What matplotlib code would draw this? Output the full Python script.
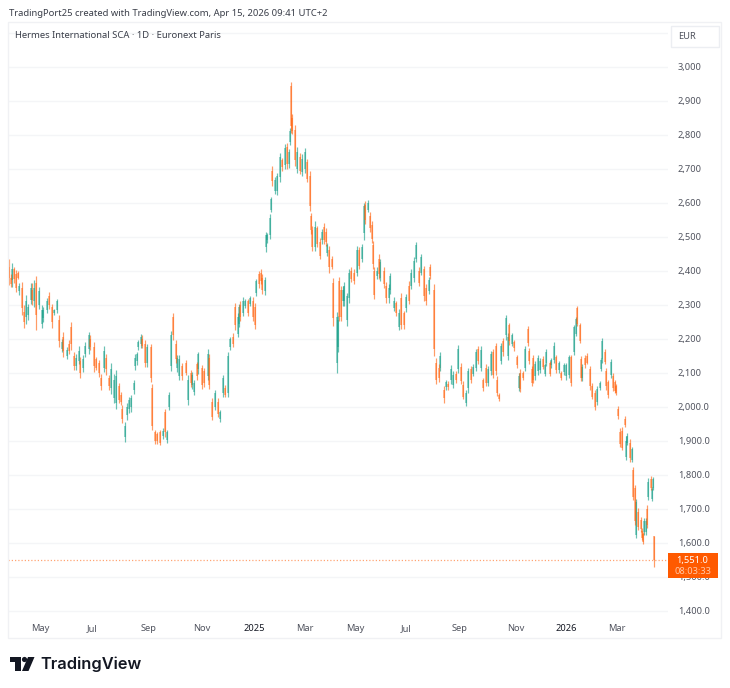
import numpy as np
import matplotlib
matplotlib.use("Agg")
import matplotlib.pyplot as plt
from matplotlib.patches import Rectangle, Polygon, Circle

plt.rcParams['font.family'] = ['Noto Sans', 'DejaVu Sans']

# Hermes daily bars (every visible bar, session = trading day number)
sessions = [
    0, 1, 2, 4, 5, 7, 8, 10, 12, 13, 15, 17, 18, 20, 21, 24, 26, 27, 30, 32,
    34, 36, 38, 40, 42, 43, 46, 48, 50, 52, 54, 56, 57, 59, 61, 64, 65, 68, 70, 72,
    74, 76, 78, 80, 82, 84, 86, 88, 90, 91, 93, 95, 96, 98, 100, 101, 103, 104, 106, 107,
    109, 111, 114, 115, 117, 119, 121, 124, 125, 127, 129, 130, 132, 134, 135, 137, 139, 142, 144, 146,
    147, 149, 151, 152, 155, 157, 160, 161, 163, 166, 168, 170, 172, 174, 176, 178, 180, 182, 184, 185,
    186, 188, 190, 192, 194, 196, 198, 199, 201, 203, 204, 206, 207, 208, 210, 211, 212, 214, 216, 218,
    220, 222, 224, 225, 226, 227, 228, 230, 232, 234, 236, 238, 240, 242, 243, 244, 246, 248, 250, 252,
    254, 255, 256, 258, 260, 261, 264, 265, 266, 267, 269, 270, 272, 274, 275, 278, 280, 282, 284, 286,
    287, 289, 291, 292, 293, 294, 296, 298, 299, 302, 304, 306, 307, 310, 312, 314, 316, 318, 320, 322,
    324, 326, 328, 330, 332, 334, 336, 338, 339, 342, 344, 346, 347,
    350, 352, 354, 356, 358, 360, 362, 364, 366, 368, 370, 372, 374, 376, 378, 380, 382, 384, 386, 388,
    390, 392, 393, 395, 396, 398, 400, 402, 403, 405, 407, 409, 411, 412, 414, 416, 418, 419, 421, 422,
    424, 426, 428, 430, 432, 433, 436, 437, 439, 441, 443, 445, 447, 449, 451, 453, 455, 457, 458, 460,
    461, 462, 464, 466, 468, 470, 472, 474, 476, 477, 478, 480, 481, 483, 485, 487, 488, 489,
    491, 492, 494, 496, 497, 498, 500, 502, 503, 504, 505, 507, 509, 510, 511, 512, 513, 514, 515, 517,
    518, 519, 520,
]
highs = [
    2436, 2392, 2422, 2412, 2402, 2400, 2363, 2368, 2299, 2329, 2304, 2365, 2363, 2373, 2384, 2353, 2299, 2294, 2319, 2338,
    2304, 2289, 2316, 2270, 2201, 2221, 2175, 2196, 2250, 2162, 2157, 2179, 2147, 2152, 2191, 2221, 2211, 2191, 2147, 2137,
    2098, 2179, 2157, 2093, 2128, 2098, 2108, 2069, 2044, 2005, 1956, 2010, 2030, 2035, 2079, 2157, 2162, 2196, 2214, 2211,
    2196, 2186, 2186, 2067, 1932, 1927, 1932, 1937, 1995, 1932, 2044, 2224, 2277, 2196, 2152, 2152, 2128, 2137, 2093, 2108,
    2103, 2079, 2132, 2162, 2123, 2113, 2169, 2157, 2025, 2049, 2025, 1990, 2093, 2064, 2162, 2206, 2216, 2306, 2275, 2304,
    2312, 2322, 2317, 2317, 2325, 2322, 2307, 2376, 2400, 2405, 2390, 2381, 2513, 2511, 2567, 2616, 2709, 2675, 2689, 2748,
    2733, 2773, 2776, 2758, 2819, 2955, 2861, 2828, 2763, 2748, 2743, 2760, 2728, 2694, 2570, 2533, 2547, 2533, 2498, 2523,
    2542, 2525, 2483, 2474, 2444, 2378, 2278, 2268, 2381, 2356, 2356, 2366, 2336, 2405, 2410, 2405, 2474, 2469, 2479, 2601,
    2606, 2609, 2572, 2547, 2488, 2410, 2410, 2449, 2435, 2410, 2366, 2361, 2393, 2322, 2312, 2287, 2335, 2283, 2332, 2369,
    2405, 2442, 2485, 2410, 2449, 2415, 2361, 2381, 2420, 2361, 2145, 2126, 2160,
    2061, 2080, 2075, 2122, 2105, 2105, 2183, 2129, 2075, 2051, 2115, 2120, 2125, 2169, 2178, 2178, 2085, 2125, 2120, 2164,
    2169, 2188, 2090, 2041, 2188, 2203, 2269, 2218, 2247, 2218, 2198, 2154, 2100, 2110, 2105, 2178, 2237, 2174, 2120, 2154,
    2134, 2154, 2144, 2149, 2129, 2169, 2134, 2144, 2190, 2154, 2134, 2105, 2129, 2129, 2154, 2154, 2242, 2265, 2298, 2247,
    2149, 2125, 2154, 2159, 2120, 2071, 2051, 2061, 2075, 2144, 2203, 2169, 2115, 2080, 2141, 2100, 2080, 2066,
    2003, 1937, 1940, 1973, 1913, 1923, 1905, 1883, 1824, 1771, 1728, 1702, 1677, 1643, 1633, 1673, 1673, 1712, 1790, 1797,
    1764, 1793, 1621,
]
lows = [
    2358, 2353, 2353, 2363, 2338, 2375, 2329, 2270, 2233, 2245, 2255, 2304, 2299, 2294, 2226, 2289, 2231, 2250, 2275, 2289,
    2233, 2270, 2275, 2177, 2162, 2147, 2142, 2157, 2167, 2108, 2108, 2126, 2084, 2103, 2147, 2157, 2167, 2103, 2108, 2088,
    2049, 2103, 2093, 2049, 2039, 2010, 1995, 2010, 2005, 1953, 1898, 1961, 1981, 1986, 2039, 2108, 2123, 2167, 2172, 2172,
    2118, 2118, 2074, 1932, 1892, 1892, 1887, 1907, 1912, 1894, 1990, 2106, 2196, 2128, 2103, 2078, 2078, 2093, 2005, 2059,
    2054, 2034, 2079, 2098, 2054, 2059, 2079, 2054, 1961, 1990, 1971, 1956, 2030, 2030, 2030, 2167, 2177, 2226, 2206, 2235,
    2253, 2268, 2292, 2268, 2297, 2253, 2229, 2327, 2351, 2361, 2332, 2329, 2456, 2483, 2493, 2572, 2650, 2626, 2623, 2660,
    2694, 2699, 2701, 2704, 2770, 2807, 2802, 2709, 2689, 2684, 2679, 2689, 2660, 2577, 2508, 2459, 2459, 2469, 2434, 2479,
    2479, 2474, 2444, 2395, 2405, 2239, 2099, 2160, 2253, 2253, 2297, 2297, 2239, 2307, 2366, 2361, 2385, 2405, 2425, 2491,
    2537, 2572, 2513, 2483, 2405, 2317, 2376, 2376, 2371, 2351, 2307, 2307, 2332, 2283, 2268, 2227, 2229, 2229, 2278, 2302,
    2346, 2366, 2425, 2356, 2387, 2312, 2299, 2332, 2376, 2150, 2067, 2072, 2106,
    2012, 2051, 2051, 2066, 2056, 2071, 2100, 2066, 2022, 2002, 2041, 2071, 2090, 2105, 2125, 2105, 2046, 2061, 2061, 2095,
    2085, 2095, 2031, 2017, 2125, 2149, 2198, 2139, 2183, 2178, 2164, 2115, 2046, 2043, 2080, 2105, 2178, 2125, 2061, 2071,
    2080, 2095, 2100, 2110, 2090, 2120, 2090, 2115, 2129, 2100, 2100, 2080, 2095, 2080, 2085, 2061, 2154, 2208, 2237, 2188,
    2075, 2075, 2115, 2125, 2051, 2022, 1992, 2007, 2051, 2105, 2129, 2125, 2051, 2026, 2085, 2046, 2041, 2036,
    1964, 1883, 1873, 1942, 1844, 1888, 1839, 1839, 1726, 1653, 1614, 1638, 1633, 1609, 1597, 1624, 1624, 1643, 1725, 1756,
    1722, 1756, 1530,
]
opens = [
    2410, 2380, 2372, 2405, 2390, 2395, 2340, 2350, 2280, 2265, 2270, 2315, 2345, 2310, 2365, 2300, 2245, 2260, 2285, 2325,
    2295, 2275, 2285, 2255, 2170, 2205, 2150, 2185, 2235, 2150, 2120, 2135, 2135, 2115, 2155, 2170, 2200, 2175, 2140, 2130,
    2085, 2115, 2145, 2085, 2055, 2025, 2010, 2060, 2035, 1995, 1910, 1975, 1995, 2000, 2050, 2120, 2135, 2175, 2185, 2200,
    2185, 2130, 2175, 2055, 1925, 1920, 1925, 1915, 1985, 1902, 2000, 2120, 2265, 2185, 2115, 2090, 2120, 2130, 2020, 2100,
    2065, 2045, 2125, 2110, 2115, 2105, 2090, 2145, 2015, 2000, 2015, 1965, 2040, 2055, 2040, 2175, 2205, 2295, 2215, 2245,
    2300, 2275, 2298, 2310, 2303, 2312, 2295, 2335, 2390, 2395, 2380, 2340, 2470, 2490, 2505, 2580, 2695, 2635, 2635, 2675,
    2725, 2710, 2765, 2715, 2780, 2945, 2850, 2815, 2700, 2735, 2690, 2700, 2720, 2680, 2560, 2520, 2470, 2525, 2485, 2490,
    2530, 2515, 2452, 2460, 2435, 2365, 2130, 2175, 2370, 2345, 2310, 2310, 2255, 2320, 2400, 2395, 2395, 2460, 2435, 2510,
    2595, 2580, 2560, 2535, 2475, 2400, 2385, 2435, 2380, 2400, 2355, 2320, 2345, 2292, 2305, 2235, 2320, 2275, 2290, 2355,
    2355, 2378, 2435, 2400, 2395, 2405, 2350, 2340, 2410, 2345, 2130, 2115, 2115,
    2050, 2058, 2068, 2078, 2065, 2098, 2110, 2118, 2065, 2010, 2055, 2110, 2098, 2115, 2170, 2115, 2078, 2115, 2070, 2105,
    2160, 2178, 2080, 2036, 2135, 2195, 2210, 2150, 2240, 2185, 2190, 2148, 2055, 2100, 2100, 2115, 2228, 2165, 2110, 2145,
    2090, 2105, 2108, 2142, 2098, 2128, 2128, 2122, 2138, 2148, 2108, 2100, 2102, 2090, 2095, 2148, 2162, 2215, 2290, 2240,
    2140, 2085, 2145, 2150, 2110, 2062, 2040, 2015, 2056, 2112, 2140, 2160, 2105, 2072, 2095, 2090, 2072, 2060,
    1995, 1925, 1930, 1965, 1852, 1895, 1895, 1845, 1815, 1760, 1622, 1692, 1668, 1635, 1625, 1632, 1632, 1700, 1735, 1788,
    1730, 1762, 1620,
]
closes = [
    2380, 2362, 2405, 2375, 2350, 2380, 2355, 2290, 2250, 2310, 2295, 2350, 2315, 2350, 2270, 2340, 2285, 2285, 2310, 2300,
    2250, 2285, 2310, 2195, 2190, 2165, 2168, 2165, 2185, 2120, 2145, 2165, 2100, 2140, 2180, 2210, 2175, 2120, 2115, 2100,
    2060, 2165, 2110, 2060, 2110, 2080, 2090, 2020, 2015, 1965, 1945, 2000, 2020, 2025, 2070, 2145, 2155, 2190, 2205, 2180,
    2130, 2175, 2085, 1945, 1900, 1900, 1895, 1930, 1925, 1925, 2035, 2210, 2210, 2140, 2145, 2140, 2090, 2100, 2080, 2070,
    2095, 2070, 2090, 2155, 2065, 2070, 2155, 2065, 1970, 2040, 1980, 1985, 2085, 2035, 2150, 2200, 2185, 2240, 2265, 2295,
    2265, 2310, 2312, 2275, 2320, 2265, 2240, 2370, 2360, 2370, 2345, 2372, 2505, 2505, 2555, 2610, 2665, 2668, 2680, 2735,
    2705, 2760, 2715, 2750, 2812, 2825, 2812, 2725, 2750, 2695, 2730, 2750, 2670, 2590, 2520, 2470, 2530, 2480, 2445, 2515,
    2490, 2485, 2475, 2410, 2412, 2260, 2265, 2255, 2265, 2265, 2345, 2355, 2325, 2395, 2375, 2370, 2460, 2415, 2470, 2590,
    2550, 2600, 2525, 2495, 2420, 2330, 2400, 2390, 2425, 2360, 2320, 2350, 2385, 2312, 2275, 2275, 2240, 2240, 2322, 2312,
    2395, 2430, 2475, 2365, 2440, 2325, 2310, 2372, 2385, 2170, 2080, 2085, 2150,
    2025, 2072, 2058, 2110, 2095, 2078, 2170, 2075, 2030, 2040, 2105, 2080, 2118, 2160, 2135, 2168, 2055, 2070, 2110, 2155,
    2095, 2105, 2040, 2022, 2180, 2160, 2260, 2205, 2195, 2210, 2172, 2122, 2092, 2052, 2085, 2170, 2188, 2135, 2070, 2080,
    2125, 2145, 2135, 2118, 2122, 2160, 2098, 2138, 2180, 2108, 2128, 2085, 2122, 2122, 2148, 2070, 2235, 2258, 2245, 2195,
    2085, 2118, 2122, 2130, 2060, 2030, 2000, 2052, 2070, 2138, 2195, 2132, 2060, 2035, 2132, 2055, 2048, 2042,
    1972, 1892, 1880, 1948, 1900, 1915, 1850, 1875, 1735, 1665, 1720, 1648, 1640, 1615, 1602, 1665, 1665, 1652, 1780, 1762,
    1758, 1788, 1551,
]

last_price = 1551.0
price_ticks = [3000, 2900, 2800, 2700, 2600, 2500, 2400, 2300, 2200, 2100, 2000, 1900, 1800, 1700, 1600, 1500, 1400]
price_labels = ['3,000', '2,900', '2,800', '2,700', '2,600', '2,500', '2,400', '2,300', '2,200', '2,100',
                '2,000.0', '1,900.0', '1,800.0', '1,700.0', '1,600.0', '1,500.0', '1,400.0']
grid_prices = [3100] + price_ticks
month_ticks = [25, 67, 112, 155, 197, 238, 279, 320, 363, 408, 449, 490]
month_labels = ['May', 'Jul', 'Sep', 'Nov', '2025', 'Mar', 'May', 'Jul', 'Sep', 'Nov', '2026', 'Mar']

green = '#089981'
orange = '#FF5A00'
text_col = '#50535e'

W, H = 730, 688
fig = plt.figure(figsize=(W / 100, H / 100), dpi=100, facecolor='white')

# pixel overlay for frame, headers and logo
over = fig.add_axes([0, 0, 1, 1], zorder=5)
over.set_xlim(0, W)
over.set_ylim(H, 0)
over.axis('off')
over.patch.set_alpha(0)

# main price panel, x from 8 to 668 px, y from 22 to 616 px
ax = fig.add_axes([8 / W, 1 - 616 / H, 660 / W, 594 / H])
ax.set_xlim(-1.2, 531)
ax.set_ylim(1385, 3132)
for s in ax.spines.values():
    s.set_visible(False)
ax.hlines(grid_prices, -1.2, 531, color='#f4f5f7', lw=1, zorder=1)

sessions = np.array(sessions)
highs = np.array(highs)
lows = np.array(lows)
opens = np.array(opens)
closes = np.array(closes)
up = closes >= opens

px = 72 / fig.dpi
for mask, col in [(up, green), (~up, orange)]:
    # soft wicks, slightly wider bodies, the reference looks blurred at this scale
    wicks = ax.vlines(sessions[mask], lows[mask], highs[mask], color=col, lw=1.2 * px, alpha=0.6, zorder=3)
    bodies = ax.vlines(sessions[mask], np.minimum(opens, closes)[mask], np.maximum(opens, closes)[mask],
                       color=col, lw=1.5 * px, alpha=0.55, zorder=3)
    wicks.set_capstyle('butt')
    bodies.set_capstyle('butt')

# last price line
ax.hlines(last_price, -1.2, 531, color=orange, lw=0.9, linestyles=(0, (1, 1.6)), alpha=0.55, zorder=2)

ax.yaxis.tick_right()
ax.set_yticks(price_ticks)
ax.set_yticklabels(price_labels, fontsize=6.7, color=text_col)
ax.set_xticks(month_ticks)
ax.set_xticklabels(month_labels, fontsize=6.7, color=text_col)
for lab in ax.get_xticklabels():
    if lab.get_text() in ('2025', '2026'):
        lab.set_fontweight('bold')
        lab.set_color('#131722')
ax.tick_params(axis='y', length=0, pad=7)
ax.tick_params(axis='x', length=0, pad=6)

# frame around the chart
over.add_patch(Rectangle((8, 22), 713, 616, fill=False, ec='#f0f1f4', lw=1))

# currency button
over.add_patch(Rectangle((671, 26), 48, 21, fc='white', ec='#eceef2', lw=1))
over.text(687, 36.5, 'EUR', fontsize=6.7, color=text_col, ha='center', va='center')

# last price badge
over.add_patch(Rectangle((668, 553), 50, 25, fc=orange, ec='none'))
over.text(692, 560, '1,551.0', fontsize=6.7, color='white', ha='center', va='center')
over.text(693, 571.5, '08:03:33', fontsize=6.7, color='#ffc8a8', ha='center', va='center')

# headers
over.text(9, 13, 'TradingPort25 created with TradingView.com, Apr 15, 2026 09:41 UTC+2',
          fontsize=6.8, color='#3a3e49', ha='left', va='center')
over.text(15, 35, 'Hermes International SCA · 1D · Euronext Paris',
          fontsize=6.8, color='#3a3e49', ha='left', va='center')

# TradingView logo
over.add_patch(Polygon([(10, 657), (21, 657), (21, 671), (15, 671), (15, 662), (10, 662)], fc='#131722', ec='none'))
over.add_patch(Circle((24.5, 659.5), 2.6, fc='#131722', ec='none'))
over.add_patch(Polygon([(28, 657), (34.5, 657), (28.5, 671), (22, 671)], fc='#131722', ec='none'))
over.text(40.5, 664, 'TradingView', fontsize=11.8, fontweight='semibold', color='#131722',
          family=['Inter', 'DejaVu Sans'], ha='left', va='center')

fig.savefig('out.png', dpi=100)
